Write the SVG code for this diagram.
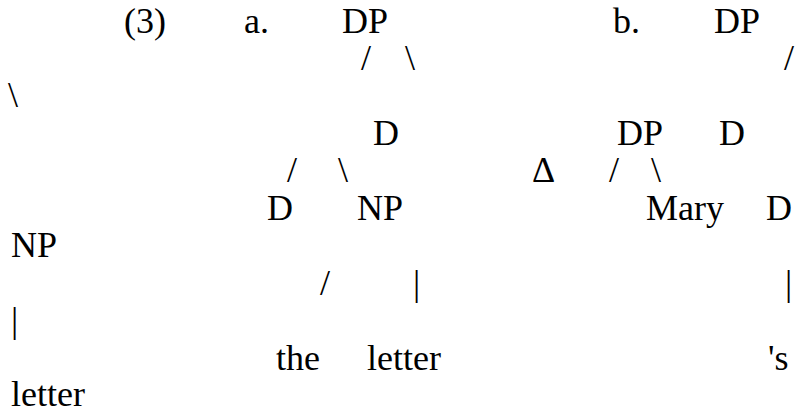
<svg xmlns="http://www.w3.org/2000/svg" width="796" height="413" viewBox="0 0 796 413" font-family="'Liberation Serif', 'Times New Roman', Times, serif" font-size="36">
<style>
text{font-family:'Liberation Serif','Times New Roman',Times,serif;font-size:36px;fill:#000}
</style>
<rect width="796" height="413" fill="#fff"/>
<g id="line1">
<text x="124" y="33">(3)</text>
<text x="244" y="33">a.</text>
<text x="342" y="33">DP</text>
<text x="613" y="33">b.</text>
<text x="714" y="33">DP</text>
</g>
<g id="line2">
<text x="361" y="70">/</text>
<text x="405" y="70">\</text>
<text x="784" y="70">/</text>
</g>
<g id="line3">
<text x="8" y="107">\</text>
</g>
<g id="line4">
<text x="373" y="145">D</text>
<text x="617" y="145">DP</text>
<text x="719" y="145">D</text>
</g>
<g id="line5">
<text x="287" y="182">/</text>
<text x="338" y="182">\</text>
<text x="532" y="182">Δ</text>
<text x="609" y="182">/</text>
<text x="651" y="182">\</text>
</g>
<g id="line6">
<text x="267" y="220">D</text>
<text x="357" y="220">NP</text>
<text x="646" y="220">Mary</text>
<text x="766" y="220">D</text>
</g>
<g id="line7">
<text x="11" y="257">NP</text>
</g>
<g id="line8">
<text x="320" y="295">/</text>
<text x="413" y="295">|</text>
<text x="785" y="295">|</text>
</g>
<g id="line9">
<text x="11" y="332">|</text>
</g>
<g id="line10">
<text x="276" y="370">the</text>
<text x="367" y="370">letter</text>
<text x="768" y="370">'s</text>
</g>
<g id="line11">
<text x="11" y="406">letter</text>
</g>
</svg>
